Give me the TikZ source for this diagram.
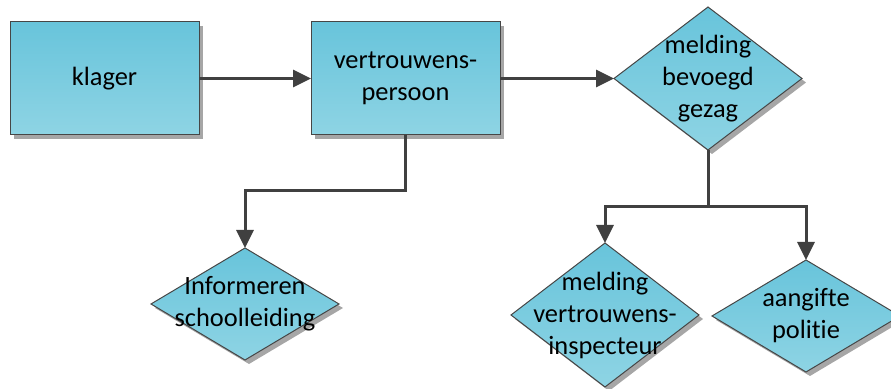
\documentclass[tikz,border=0pt]{standalone}
\usepackage{fontspec}
\setmainfont{Carlito}[Ligatures=NoCommon]
\usetikzlibrary{arrows.meta,shapes.geometric,shadows}

\definecolor{blauwboven}{RGB}{104,196,219}
\definecolor{blauwonder}{RGB}{142,212,228}
\definecolor{rand}{RGB}{70,70,70}
\definecolor{lijn}{RGB}{64,64,64}

\tikzset{
  vorm/.style={draw=rand, line width=0.5pt, top color=blauwboven,
    bottom color=blauwonder, outer sep=0pt, inner sep=0pt,
    drop shadow={shadow xshift=2pt, shadow yshift=-2pt, fill=black!35, opacity=1}},
  blok/.style={vorm, rectangle, minimum width=94.5pt, minimum height=56.5pt, align=center},
  ruit/.style={vorm, diamond, minimum width=94pt},
  tekst/.style={align=center},
  pijl/.style={draw=lijn, line width=1.5pt, -{Triangle[length=9pt,width=8.5pt]}},
}

\begin{document}
\begin{tikzpicture}[x=0.5pt, y=-0.5pt, font=\fontsize{13.2}{16}\selectfont]
    \useasboundingbox (0,0) rectangle (891,389);

    \node[blok] (klager) at (104.5,78.5) {klager};
    \node[blok] (vp) at (405.5,78.5) {vertrouwens-\\persoon};
    \node[ruit, minimum height=71.5pt,
      label={[tekst]center:melding\\bevoegd\\gezag}] (bg) at (708,78.5) {};

    \node[ruit, minimum height=56pt,
      label={[tekst]center:Informeren\\schoolleiding}] (inf) at (245,304) {};
    \node[ruit, minimum height=72pt,
      label={[tekst]center:melding\\vertrouwens-\\inspecteur}] (mvi) at (605,315) {};
    \node[ruit, minimum height=56pt,
      label={[tekst]center:aangifte\\politie}] (pol) at (806,316) {};

    \draw[pijl] (klager) -- (vp);
    \draw[pijl] (vp) -- (bg);
    \draw[pijl] (vp.south) -- ++(0,56) -| (inf.north);
    \draw[pijl] (bg.south) -- ++(0,57) -| (mvi.north);
    \draw[pijl] (bg.south) -- ++(0,57) -| (pol.north);
\end{tikzpicture}
\end{document}
